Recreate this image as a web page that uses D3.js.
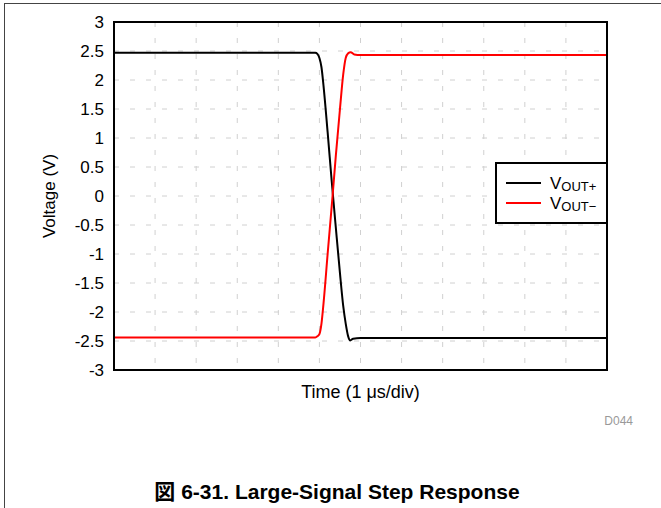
<!DOCTYPE html>
<html>
<head>
<meta charset="utf-8">
<script src="https://cdn.jsdelivr.net/npm/d3@7"></script>
<style>
  body { margin: 0; background: #fff; }
  svg text { font-family: "Liberation Sans", Arial, "Noto Sans CJK JP", sans-serif; }
</style>
</head>
<body>
<div id="chart"></div>
<script>
// time in divisions (1 us/div), voltage in V
const timePos = [0, 4.9, 4.95, 5.0, 5.05, 5.1, 5.2, 5.3, 5.4, 5.5, 5.58, 5.64, 5.7, 5.75, 5.82, 6.0, 8, 12];
const voutPos = [2.47, 2.47, 2.45, 2.38, 2.22, 1.9, 1.1, 0.25, -0.55, -1.33, -1.9, -2.2, -2.42, -2.49, -2.46, -2.45, -2.45, -2.45];
const timeNeg = [0, 4.9, 4.95, 5.0, 5.05, 5.1, 5.2, 5.32, 5.4, 5.5, 5.58, 5.64, 5.7, 5.76, 5.85, 6.0, 8, 12];
const voutNeg = [-2.44, -2.44, -2.42, -2.38, -2.2, -1.85, -1.0, 0.0, 0.7, 1.5, 2.1, 2.38, 2.46, 2.48, 2.44, 2.43, 2.43, 2.43];
const yTicks = [3, 2.5, 2, 1.5, 1, 0.5, 0, -0.5, -1, -1.5, -2, -2.5, -3];
const xDivs = d3.range(0, 13);

const W = 661, H = 508;
const margin = { top: 22, right: 54, bottom: 138, left: 114 };
const width = W - margin.left - margin.right;
const height = H - margin.top - margin.bottom;

const root = d3.select("#chart").append("svg")
    .attr("width", W)
    .attr("height", H);

// outer frame (top and left edges only visible)
root.append("line").attr("x1", 4).attr("x2", W).attr("y1", 3.5).attr("y2", 3.5)
    .attr("stroke", "#444").attr("stroke-width", 1);
root.append("line").attr("x1", 4.5).attr("x2", 4.5).attr("y1", 3).attr("y2", H)
    .attr("stroke", "#444").attr("stroke-width", 1);

const svg = root.append("g")
    .attr("transform", `translate(${margin.left},${margin.top})`);

const x = d3.scaleLinear().domain([0, 12]).range([0, width]);
const y = d3.scaleLinear().domain([-3, 3]).range([height, 0]);

// grid
svg.append("g").selectAll("line").data(yTicks.slice(1, -1)).join("line")
    .attr("x1", 0).attr("x2", width)
    .attr("y1", d => y(d)).attr("y2", d => y(d))
    .attr("stroke", "#d0d0d0").attr("stroke-width", 1)
    .attr("stroke-dasharray", "5,11");
svg.append("g").selectAll("line").data(xDivs.slice(1, -1)).join("line")
    .attr("x1", d => x(d)).attr("x2", d => x(d))
    .attr("y1", 0).attr("y2", height)
    .attr("stroke", "#d0d0d0").attr("stroke-width", 1)
    .attr("stroke-dasharray", "5,11");

// y axis labels (plain hyphen for negatives)
const yAxis = svg.append("g")
    .call(d3.axisLeft(y).tickValues(yTicks).tickSize(0).tickPadding(10).tickFormat(d => String(d)));
yAxis.select(".domain").remove();
yAxis.attr("font-size", 17);
yAxis.selectAll("text").attr("font-size", 17).attr("fill", "#000")
    .style("font-family", '"Liberation Sans", Arial, sans-serif');

// lines
const line = d3.line()
    .x(d => x(d[0]))
    .y(d => y(d[1]))
    .curve(d3.curveMonotoneX);

svg.append("path")
    .datum(d3.zip(timePos, voutPos))
    .attr("d", line)
    .attr("fill", "none")
    .attr("stroke", "#000")
    .attr("stroke-width", 2);

svg.append("path")
    .datum(d3.zip(timeNeg, voutNeg))
    .attr("d", line)
    .attr("fill", "none")
    .attr("stroke", "#ff0000")
    .attr("stroke-width", 2);

// plot border
svg.append("rect")
    .attr("width", width).attr("height", height)
    .attr("fill", "none").attr("stroke", "#000").attr("stroke-width", 2);

// legend
const legend = svg.append("g").attr("transform", `translate(${width - 111},141)`);
legend.append("rect")
    .attr("width", 111).attr("height", 60)
    .attr("fill", "#fff").attr("stroke", "#000").attr("stroke-width", 2);
const legendItems = [
    { name: "OUT+", color: "#000" },
    { name: "OUT\u2212", color: "#ff0000" }
];
legendItems.forEach((item, i) => {
    const ly = 20 + i * 20;
    legend.append("line")
        .attr("x1", 10).attr("x2", 45)
        .attr("y1", ly).attr("y2", ly)
        .attr("stroke", item.color).attr("stroke-width", 2);
    const t = legend.append("text")
        .attr("x", 54).attr("y", ly + 6)
        .attr("font-size", 17);
    t.append("tspan").text("V");
    t.append("tspan").attr("font-size", 13).attr("dy", 2).text(item.name);
});

// axis titles
svg.append("text")
    .attr("transform", `translate(-59,${height / 2}) rotate(-90)`)
    .attr("text-anchor", "middle")
    .attr("font-size", 17)
    .text("Voltage (V)");

svg.append("text")
    .attr("x", width / 2).attr("y", height + 28)
    .attr("text-anchor", "middle")
    .attr("font-size", 18)
    .text("Time (1 \u03bcs/div)");

root.append("text")
    .attr("x", 633).attr("y", 425)
    .attr("text-anchor", "end")
    .attr("font-size", 12)
    .attr("fill", "#999")
    .text("D044");

root.append("text")
    .attr("x", 337).attr("y", 499)
    .attr("text-anchor", "middle")
    .attr("font-size", 21)
    .attr("font-weight", "bold")
    .text("図 6-31. Large-Signal Step Response");
</script>
</body>
</html>
